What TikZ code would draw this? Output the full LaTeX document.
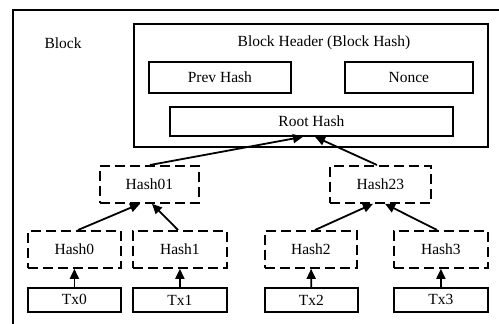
\documentclass[tikz,border=0pt]{standalone}
\usepackage{fontspec}
\setmainfont{Liberation Serif}
\usetikzlibrary{arrows.meta}
\begin{document}
\begin{tikzpicture}[x=1pt,y=-1pt,
  lbl/.style={font=\fontsize{15.5}{18}\selectfont},
  solidbox/.style={draw,line width=1.8pt,inner sep=0pt,lbl},
  dashbox/.style={draw,line width=1.8pt,dash pattern=on 10pt off 5pt,inner sep=0pt,lbl},
  arr/.style={line width=1.8pt,-{Triangle[length=10pt,width=9pt]}}]
\useasboundingbox (0,0) rectangle (499,324);
\begin{scope}
\clip (0,0) rectangle (499,324);
\draw[line width=1.8pt] (13,330) -- (13,10) -- (510,10);
\end{scope}
\node[anchor=west,lbl] (blk) at (41,43) {Block};
\node[draw,line width=1.8pt,minimum width=354pt,minimum height=123pt,anchor=north west] (hdr) at (133,23) {};
\node[lbl] (hdrt) at (324,43) {Block Header (Block Hash)};
\node[solidbox,minimum width=142pt,minimum height=31pt,anchor=north west] (prev) at (148,61) {Prev Hash};
\node[solidbox,minimum width=128pt,minimum height=31pt,anchor=north west] (nonce) at (344,61) {Nonce};
\node[solidbox,minimum width=283pt,minimum height=29pt,anchor=north west] (root) at (169,106) {Root Hash};
\node[dashbox,minimum width=99pt,minimum height=37pt,anchor=north west] (h01) at (99,165) {Hash01};
\node[dashbox,minimum width=101pt,minimum height=37pt,anchor=north west] (h23) at (329,165) {Hash23};
\node[dashbox,minimum width=93pt,minimum height=37pt,anchor=north west] (h0) at (27,230) {Hash0};
\node[dashbox,minimum width=94pt,minimum height=37pt,anchor=north west] (h1) at (132,230) {Hash1};
\node[dashbox,minimum width=92pt,minimum height=37pt,anchor=north west] (h2) at (264,230) {Hash2};
\node[dashbox,minimum width=94pt,minimum height=37pt,anchor=north west] (h3) at (393,230) {Hash3};
\node[solidbox,minimum width=93pt,minimum height=24pt,anchor=north west] (t0) at (27,287) {Tx0};
\node[solidbox,minimum width=94pt,minimum height=24pt,anchor=north west] (t1) at (132,287) {Tx1};
\node[solidbox,minimum width=93pt,minimum height=24pt,anchor=north west] (t2) at (264,287) {Tx2};
\node[solidbox,minimum width=94pt,minimum height=24pt,anchor=north west] (t3) at (393,287) {Tx3};
\draw[arr] (h01.north -| 150,0) -- (root.south -| 303,0);
\draw[arr] (h23.north -| 377,0) -- (root.south -| 315,0);
\draw[arr] (h0.north -| 78,0) -- (h01.south -| 140,0);
\draw[arr] (h1.north -| 178,0) -- (h01.south -| 152,0);
\draw[arr] (h2.north -| 315,0) -- (h23.south -| 373,0);
\draw[arr] (h3.north -| 437,0) -- (h23.south -| 385,0);
\draw[arr] (t0) -- (h0);
\draw[arr] (t1) -- (h1);
\draw[arr] (t2) -- (h2);
\draw[arr] (t3) -- (h3);
\end{tikzpicture}
\end{document}
